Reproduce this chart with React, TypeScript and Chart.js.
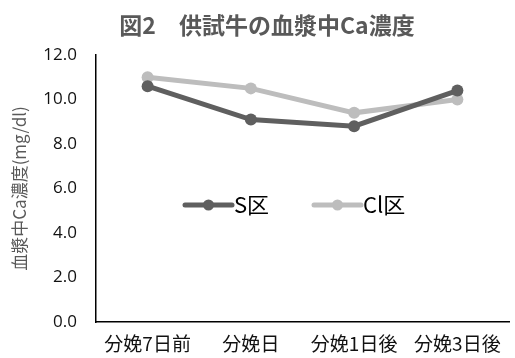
import React, { useEffect, useRef } from "react";
import { Chart, registerables } from "chart.js";

Chart.register(...registerables);

const titleText = "図2　供試牛の血漿中Ca濃度";
const yAxisTitle = "血漿中Ca濃度(mg/dl)";
const categories = ["分娩7日前", "分娩日", "分娩1日後", "分娩3日後"];
const seriesNames = ["S区", "Cl区"];
const sValues = [10.6, 9.1, 8.8, 10.4];
const clValues = [11.0, 10.5, 9.4, 10.0];
const seriesColors = ["#5f5f5f", "#bdbdbd"];

const overlayPlugin = {
  id: "overlay",
  afterDraw(chart: any) {
    const ctx = chart.ctx;
    ctx.save();
    // title
    ctx.fillStyle = "#595959";
    ctx.font = "bold 23px 'Noto Sans CJK JP'";
    ctx.textAlign = "center";
    ctx.textBaseline = "middle";
    ctx.fillText(titleText, 267, 25);
    // legend
    const y = 205;
    const items = [
      { x: 185, label: seriesNames[0], color: seriesColors[0] },
      { x: 314, label: seriesNames[1], color: seriesColors[1] },
    ];
    for (const it of items) {
      ctx.strokeStyle = it.color;
      ctx.lineWidth = 5;
      ctx.lineCap = "round";
      ctx.beginPath();
      ctx.moveTo(it.x, y);
      ctx.lineTo(it.x + 47, y);
      ctx.stroke();
      ctx.fillStyle = it.color;
      ctx.beginPath();
      ctx.arc(it.x + 23.5, y, 5.5, 0, Math.PI * 2);
      ctx.fill();
      ctx.fillStyle = "#000000";
      ctx.font = "22px 'Noto Sans CJK JP'";
      ctx.textAlign = "left";
      ctx.textBaseline = "middle";
      ctx.fillText(it.label, it.x + 49, y);
    }
    ctx.restore();
  },
};

export default function App() {
  const ref = useRef<HTMLCanvasElement | null>(null);
  useEffect(() => {
    document.body.style.margin = "0";
    const canvas = ref.current!;
    const chart = new Chart(canvas, {
      type: "line",
      data: {
        labels: categories,
        datasets: [
          {
            label: seriesNames[0],
            data: sValues,
            borderColor: seriesColors[0],
            backgroundColor: seriesColors[0],
            borderWidth: 5,
            pointRadius: 6,
            pointBorderWidth: 0,
            pointBackgroundColor: seriesColors[0],
          },
          {
            label: seriesNames[1],
            data: clValues,
            borderColor: seriesColors[1],
            backgroundColor: seriesColors[1],
            borderWidth: 5,
            pointRadius: 6,
            pointBorderWidth: 0,
            pointBackgroundColor: seriesColors[1],
          },
        ],
      },
      options: {
        animation: false,
        responsive: false,
        maintainAspectRatio: false,
        layout: { padding: { top: 55, right: 0, bottom: 0, left: 0 } },
        plugins: {
          legend: { display: false },
          title: { display: false },
          tooltip: { enabled: false },
        },
        scales: {
          x: {
            type: "category",
            offset: true,
            grid: { display: false, drawTicks: false },
            border: { display: true, color: "#000000", width: 1.5 },
            ticks: {
              color: "#111111",
              font: { family: "'Noto Sans CJK JP'", size: 19 },
              padding: 10,
              maxRotation: 0,
              autoSkip: false,
            },
            afterFit(scale: any) {
              scale.height = 36;
            },
          },
          y: {
            min: 0,
            max: 12,
            grid: { display: false, drawTicks: false },
            border: { display: true, color: "#000000", width: 1.5 },
            ticks: {
              stepSize: 2,
              color: "#111111",
              font: { family: "'Open Sans'", size: 17 },
              padding: 19,
              callback: (v: any) => Number(v).toFixed(1),
            },
            title: {
              display: true,
              text: yAxisTitle,
              color: "#595959",
              font: { family: "'Noto Sans CJK JP'", size: 17 },
              padding: { top: 9, bottom: 0 },
            },
            afterFit(scale: any) {
              scale.width = 96;
            },
          },
        },
      },
      plugins: [overlayPlugin],
    });
    return () => chart.destroy();
  }, []);
  return <canvas ref={ref} width={515} height={358} style={{ display: "block" }} />;
}
